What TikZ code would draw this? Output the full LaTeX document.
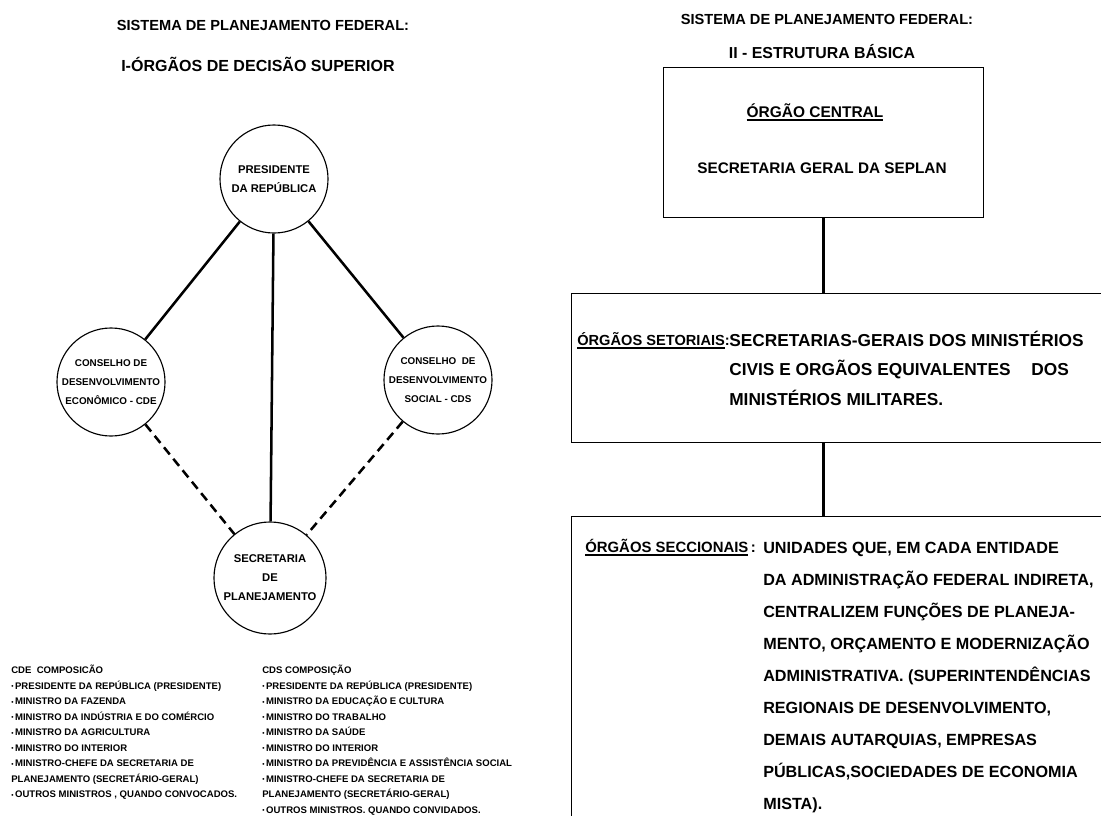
\documentclass[tikz,border=0pt]{standalone}
\usepackage{fontspec}
\setmainfont{Liberation Sans}
\newcommand{\orgbul}{{\fontsize{4.5}{5}\selectfont\raisebox{0.15ex}{•}}\,}
\newcommand{\orgul}[1]{\leavevmode\vtop{\hbox{#1}\kern1.6pt\hrule height 0.9pt}}
\tikzset{
  orgcirc/.style={circle, draw, line width=0.8pt, minimum size=2.7cm, inner sep=0pt,
    align=center, font=\bfseries\fontsize{7}{13.5}\selectfont},
  orgbox/.style={draw, line width=0.8pt, inner sep=0pt, anchor=north west},
  link/.style={line width=1.8pt},
  dashlink/.style={line width=1.8pt, dash pattern=on 6.5pt off 4pt},
  headtext/.style={inner sep=0pt, font=\bfseries\fontsize{10.4}{12}\selectfont},
  boxtext/.style={inner sep=0pt, align=left, font=\bfseries\fontsize{11.5}{22.8}\selectfont},
  listtext/.style={inner sep=0pt, align=left, anchor=north west,
    font=\bfseries\fontsize{6.8}{11}\selectfont}
}
\begin{document}
\begin{tikzpicture}[x=0.025cm, y=-0.025cm]

	\useasboundingbox (0,0) rectangle (1101,816);
	\clip (0,0) rectangle (1101,816);

	\def\xl{273}
	\def\xr{822}

	%left part: titles
	\node[headtext] (lhead1) at (263,25) {SISTEMA DE PLANEJAMENTO FEDERAL:};
	\node[headtext, font=\bfseries\fontsize{11.4}{12}\selectfont] (lhead2) at (258,64) {I-ÓRGÃOS DE DECISÃO SUPERIOR};

	%left part: circles
	\node[orgcirc, font=\bfseries\fontsize{8}{14}\selectfont] (pres) at (\xl+1,179) {PRESIDENTE\\DA REPÚBLICA};
	\node[orgcirc] (cde) at (111,382) {CONSELHO DE\\DESENVOLVIMENTO\\ECONÔMICO - CDE};
	\node[orgcirc] (cds) at (438,380) {CONSELHO\ \ DE\\DESENVOLVIMENTO\\SOCIAL - CDS};
	\node[orgcirc, minimum size=2.8cm, font=\bfseries\fontsize{8}{13.5}\selectfont] (sec) at (\xl-3,578) {SECRETARIA\\DE\\PLANEJAMENTO};

	%left part: links
	\draw[link] (pres) -- (cde);
	\draw[link] (pres) -- (cds);
	\draw[link] (pres) -- (sec);
	\draw[dashlink] (cde) -- (sec);
	\draw[dashlink] (cds) -- (sec);

	%left part: composition lists
	\node[listtext] (cdelist) at (11,665) {CDE\ \ COMPOSICÃO\\
		\orgbul PRESIDENTE DA REPÚBLICA (PRESIDENTE)\\
		\orgbul MINISTRO DA FAZENDA\\
		\orgbul MINISTRO DA INDÚSTRIA E DO COMÉRCIO\\
		\orgbul MINISTRO DA AGRICULTURA\\
		\orgbul MINISTRO DO INTERIOR\\
		\orgbul MINISTRO-CHEFE DA SECRETARIA DE\\
		PLANEJAMENTO (SECRETÁRIO-GERAL)\\
		\orgbul OUTROS MINISTROS , QUANDO CONVOCADOS.};
	\node[listtext] (cdslist) at (262,665) {CDS COMPOSIÇÃO\\
		\orgbul PRESIDENTE DA REPÚBLICA (PRESIDENTE)\\
		\orgbul MINISTRO DA EDUCAÇÃO E CULTURA\\
		\orgbul MINISTRO DO TRABALHO\\
		\orgbul MINISTRO DA SAÚDE\\
		\orgbul MINISTRO DO INTERIOR\\
		\orgbul MINISTRO DA PREVIDÊNCIA E ASSISTÊNCIA SOCIAL\\
		\orgbul MINISTRO-CHEFE DA SECRETARIA DE\\
		PLANEJAMENTO (SECRETÁRIO-GERAL)\\
		\orgbul OUTROS MINISTROS. QUANDO CONVIDADOS.};

	%right part: titles
	\node[headtext] (rhead1) at (827,19) {SISTEMA DE PLANEJAMENTO FEDERAL:};
	\node[headtext, font=\bfseries\fontsize{11.3}{12}\selectfont] (rhead2) at (\xr,52) {II - ESTRUTURA BÁSICA};

	%right part: boxes
	\node[orgbox, minimum width=8cm, minimum height=3.75cm] (central) at (663,67) {};
	\node[orgbox, minimum width=13.9cm, minimum height=3.725cm] (setoriais) at (571,293) {};
	\node[orgbox, minimum width=13.9cm, minimum height=8.1cm] (seccionais) at (571,516) {};

	\draw[link] (central.south) -- (central.south |- setoriais.north);
	\draw[link] (central.south |- setoriais.south) -- (central.south |- seccionais.north);

	%right part: box texts
	\node[boxtext, anchor=base, font=\bfseries\fontsize{11}{12}\selectfont] (centraltit) at (815,117) {\orgul{ÓRGÃO CENTRAL}};
	\node[boxtext, font=\bfseries\fontsize{10.9}{12}\selectfont] (centralname) at (\xr,168) {SECRETARIA GERAL DA SEPLAN};

	\node[boxtext, anchor=base west, font=\bfseries\fontsize{10.4}{12}\selectfont] (setlabel) at (577,345) {\orgul{ÓRGÃOS SETORIAIS}:};
	\node[boxtext, anchor=north west, font=\bfseries\fontsize{12.3}{21}\selectfont] (settext) at (729,330.5) {SECRETARIAS-GERAIS DOS MINISTÉRIOS\\
		CIVIS E ORGÃOS EQUIVALENTES\hspace{1.2em}DOS\\
		MINISTÉRIOS MILITARES.};

	\node[boxtext, anchor=base west, font=\bfseries\fontsize{10.6}{12}\selectfont] (seclabel) at (585,552) {\orgul{ÓRGÃOS\ SECCIONAIS}\,:};
	\node[boxtext, anchor=north west] (sectext) at (763,541.5) {UNIDADES QUE, EM CADA ENTIDADE\\
		DA ADMINISTRAÇÃO FEDERAL INDIRETA,\\
		CENTRALIZEM FUNÇÕES DE PLANEJA-\\
		MENTO, ORÇAMENTO E MODERNIZAÇÃO\\
		ADMINISTRATIVA. (SUPERINTENDÊNCIAS\\
		REGIONAIS DE DESENVOLVIMENTO,\\
		DEMAIS AUTARQUIAS, EMPRESAS\\
		PÚBLICAS,SOCIEDADES DE ECONOMIA\\
		MISTA).};

\end{tikzpicture}
\end{document}
